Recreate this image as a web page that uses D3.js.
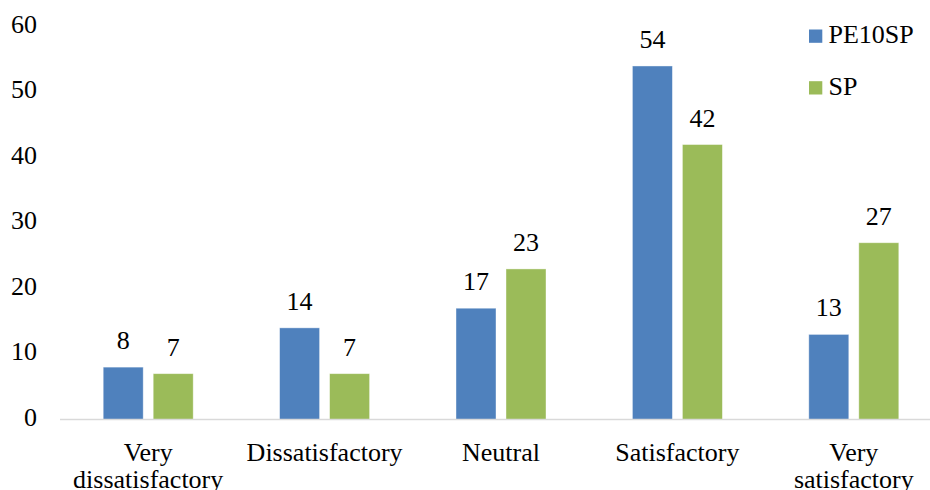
<!DOCTYPE html>
<html>
<head>
<meta charset="utf-8">
<script src="https://cdn.jsdelivr.net/npm/d3@7"></script>
<style>
    body { margin: 0; background: #fff; }
    svg text { font-family: "Liberation Serif", "Times New Roman", serif; fill: #000; }
</style>
</head>
<body>
<div id="chart"></div>
<script>
// Chart data
var categories = ['Very dissatisfactory', 'Dissatisfactory', 'Neutral', 'Satisfactory', 'Very satisfactory'];
var seriesNames = ['PE10SP', 'SP'];
var pe10spValues = [8, 14, 17, 54, 13];
var spValues = [7, 7, 23, 42, 27];
var yTicks = [0, 10, 20, 30, 40, 50, 60];

var colors = { PE10SP: '#4f81bd', SP: '#9bbb59' };

var width = 930;
var height = 490;
var margin = { top: 26.7, right: -12, bottom: 70.5, left: 60 };

var svg = d3.select('#chart')
    .append('svg')
    .attr('width', width)
    .attr('height', height);

var x0 = d3.scaleBand()
    .domain(categories)
    .range([margin.left, width - margin.right])
    .padding(0);

var groupWidth = 90;
var x1 = d3.scaleBand()
    .domain(seriesNames)
    .range([0, groupWidth])
    .paddingInner(0.2);

var y = d3.scaleLinear()
    .domain([0, 60])
    .range([height - margin.bottom, margin.top]);

// y tick labels (no axis line, no gridlines)
var yAxis = svg.append('g')
    .attr('transform', `translate(${margin.left}, 0)`)
    .call(d3.axisLeft(y).tickValues(yTicks).tickSize(0).tickPadding(23));
yAxis.select('.domain').remove();
yAxis.selectAll('text')
    .attr('font-size', '26px')
    .attr('dy', '0.22em');

// Build rows from the arrays
var rows = categories.map((c, i) => ({
    category: c,
    values: [
        { key: 'PE10SP', value: pe10spValues[i] },
        { key: 'SP', value: spValues[i] }
    ]
}));

var groups = svg.append('g')
    .selectAll('g')
    .data(rows)
    .join('g')
    .attr('transform', d => `translate(${x0(d.category) + (x0.bandwidth() - groupWidth) / 2}, 0)`);

groups.selectAll('rect')
    .data(d => d.values)
    .join('rect')
    .attr('x', d => x1(d.key))
    .attr('y', d => y(d.value))
    .attr('width', x1.bandwidth())
    .attr('height', d => y(0) - y(d.value))
    .attr('fill', d => colors[d.key])
    .attr('stroke', '#ffffff')
    .attr('stroke-opacity', 0.5)
    .attr('stroke-width', 0.8);

// Value labels
groups.selectAll('text.value')
    .data(d => d.values)
    .join('text')
    .attr('class', 'value')
    .attr('x', d => x1(d.key) + x1.bandwidth() / 2)
    .attr('y', d => y(d.value) - 18)
    .attr('text-anchor', 'middle')
    .attr('font-size', '26px')
    .text(d => d.value);

// x axis line
svg.append('line')
    .attr('x1', margin.left)
    .attr('x2', width)
    .attr('y1', y(0))
    .attr('y2', y(0))
    .attr('stroke', '#d9d9d9')
    .attr('stroke-width', 1.5);

// x category labels, wrapped like the original
var labelLines = {
    'Very dissatisfactory': ['Very', 'dissatisfactory'],
    'Very satisfactory': ['Very', 'satisfactory']
};
svg.append('g')
    .selectAll('text')
    .data(categories)
    .join('text')
    .attr('text-anchor', 'middle')
    .attr('font-size', '26px')
    .attr('x', d => x0(d) + x0.bandwidth() / 2)
    .attr('y', y(0) + 41)
    .each(function(d) {
        var lines = labelLines[d] || [d];
        var t = d3.select(this);
        lines.forEach((l, i) => {
            t.append('tspan')
                .attr('x', x0(d) + x0.bandwidth() / 2)
                .attr('dy', i === 0 ? 0 : 27)
                .text(l);
        });
    });

// Legend
var legend = svg.append('g')
    .selectAll('g')
    .data(seriesNames)
    .join('g')
    .attr('transform', (d, i) => `translate(809, ${29.5 + i * 51.7})`);

legend.append('rect')
    .attr('width', 13.3)
    .attr('height', 13.3)
    .attr('fill', d => colors[d]);

legend.append('text')
    .attr('x', 19.5)
    .attr('y', 13.5)
    .attr('font-size', '26px')
    .text(d => d);
</script>
</body>
</html>
